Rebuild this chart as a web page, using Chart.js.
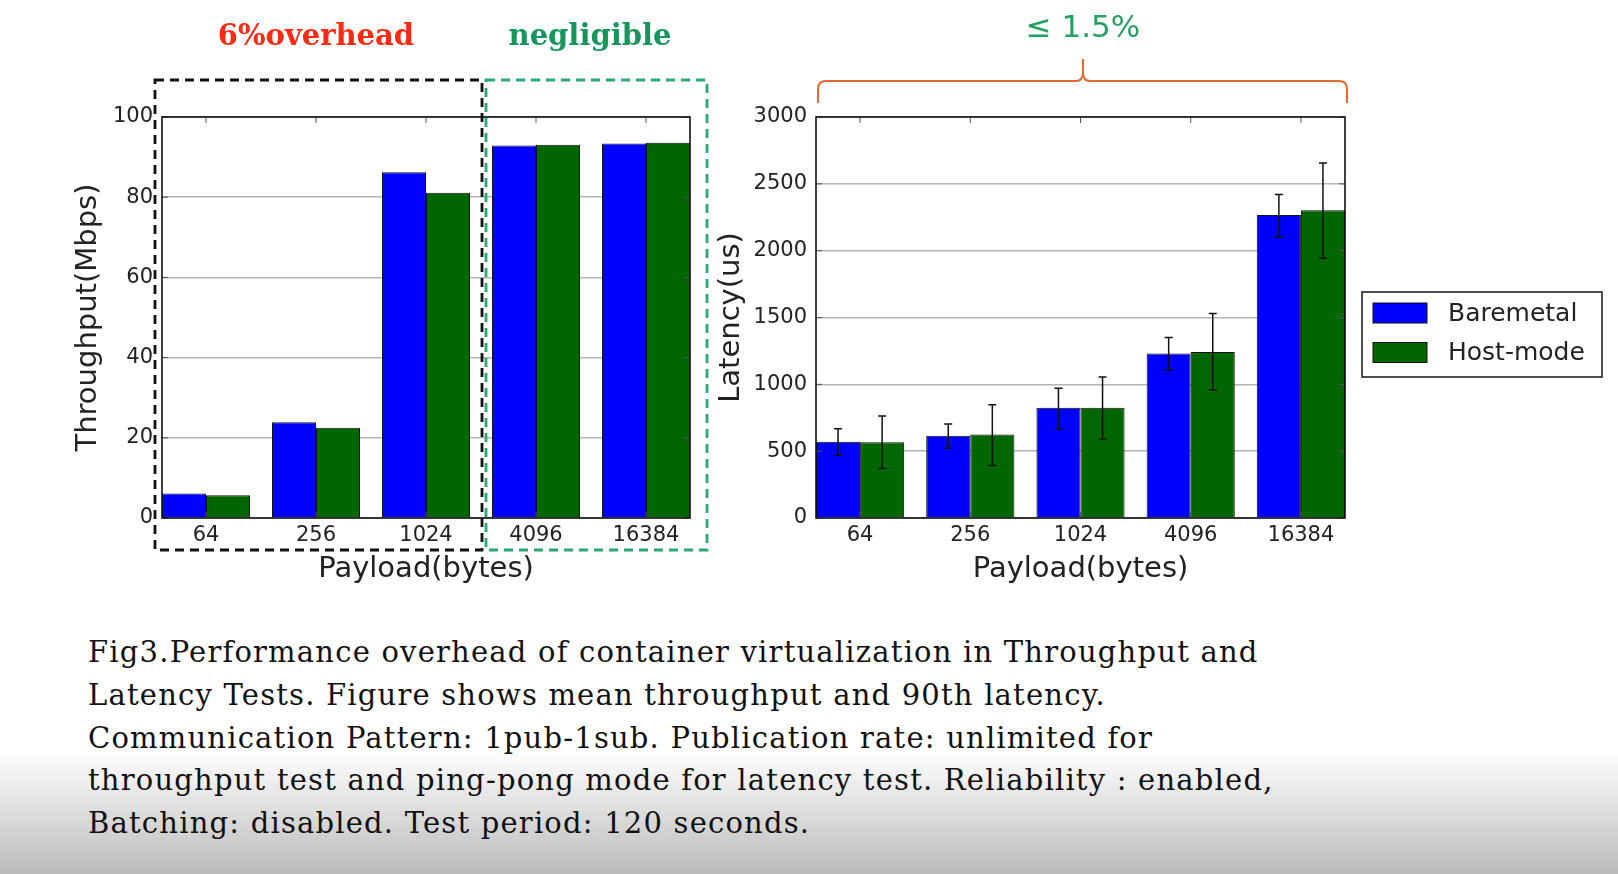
<!DOCTYPE html>
<html>
<head>
<meta charset="utf-8">
<script src="https://cdn.jsdelivr.net/npm/chart.js@4.4.0/dist/chart.umd.min.js"></script>
<style>
  html, body { margin: 0; padding: 0; }
  body {
    width: 1618px; height: 874px; position: relative; overflow: hidden;
    background: linear-gradient(to bottom, #fff 0px, #fff 750px, #bbbbbb 874px);
  }
  canvas { position: absolute; top: 0; }
  #cv1 { left: 0; }
  #cv2 { left: 700px; }
  #caption {
    position: absolute; left: 88px; top: 631px;
    font-family: "DejaVu Serif", serif; font-size: 29px; line-height: 42.8px;
    letter-spacing: 1.2px; color: #111; white-space: nowrap;
  }
</style>
</head>
<body>
<canvas id="cv1" width="720" height="620"></canvas>
<canvas id="cv2" width="918" height="620"></canvas>
<div id="caption">Fig3.Performance overhead of container virtualization in Throughput and<br>Latency Tests. Figure shows mean throughput and 90th latency.<br>Communication Pattern: 1pub-1sub. Publication rate: unlimited for<br>throughput test and ping-pong mode for latency test. Reliability : enabled,<br>Batching: disabled. Test period: 120 seconds.</div>
<script>
// values
const payloads = ['64', '256', '1024', '4096', '16384'];
const seriesNames = ['Baremetal', 'Host-mode'];
const thrBare = [6.1, 23.9, 86.2, 92.9, 93.4];
const thrHost = [5.7, 22.5, 81.1, 93.1, 93.6];
const latBare = [571, 615, 825, 1231, 2266];
const latHost = [566, 624, 825, 1242, 2302];
const latBareLow = [469, 524, 668, 1109, 2103];
const latBareHigh = [668, 704, 971, 1350, 2420];
const latHostLow = [370, 392, 591, 958, 1943];
const latHostHigh = [764, 847, 1054, 1529, 2655];

const BLUE = '#0000ff';
const GREEN = '#006600';

Chart.defaults.font.family = '"DejaVu Sans", sans-serif';
Chart.defaults.color = '#222';

function pts(arr) {
  return arr.map((v, i) => ({ x: i, y: v }));
}

// matplotlib style frame + inward ticks
const framePlugin = {
  id: 'frame',
  afterDatasetsDraw(chart) {
    const { ctx, chartArea: a, scales } = chart;
    ctx.save();
    ctx.strokeStyle = '#555';
    ctx.lineWidth = 1;
    ctx.beginPath();
    scales.y.ticks.forEach(t => {
      const y = scales.y.getPixelForValue(t.value);
      ctx.moveTo(a.left, y); ctx.lineTo(a.left + 6, y);
      ctx.moveTo(a.right, y); ctx.lineTo(a.right - 6, y);
    });
    scales.x.ticks.forEach(t => {
      const x = scales.x.getPixelForValue(t.value);
      ctx.moveTo(x, a.top); ctx.lineTo(x, a.top + 6);
      ctx.moveTo(x, a.bottom); ctx.lineTo(x, a.bottom - 6);
    });
    ctx.stroke();
    ctx.strokeStyle = '#111';
    ctx.lineWidth = 1.6;
    ctx.strokeRect(a.left, a.top, a.right - a.left, a.bottom - a.top);
    ctx.restore();
  }
};

function baseOptions(yMax, yStep, yTitle, yWidth, yTitlePad, padRight) {
  return {
    responsive: false,
    animation: false,
    layout: { padding: { top: 117, right: padRight, left: 0, bottom: 0 } },
    plugins: { legend: { display: false }, tooltip: { enabled: false } },
    datasets: { bar: { categoryPercentage: 0.8, barPercentage: 1.0 } },
    scales: {
      x: {
        type: 'linear', min: -0.4, max: 4.4, offset: false,
        grid: { display: false, drawTicks: false, offset: false },
        border: { display: false },
        ticks: {
          stepSize: 1, includeBounds: false, padding: 5, maxRotation: 0,
          font: { size: 21 }, color: '#222',
          callback: v => payloads[v] ?? ''
        },
        title: { display: true, text: 'Payload(bytes)', font: { size: 29 }, color: '#222', padding: { top: 0, bottom: 33.6 } },
        afterFit: s => { s.height = 102; }
      },
      y: {
        min: 0, max: yMax,
        grid: { color: '#b4b4b4', lineWidth: 1.5, drawTicks: false },
        border: { display: false },
        ticks: { stepSize: yStep, padding: 9, font: { size: 21 }, color: '#222', callback: v => String(v) },
        title: { display: true, text: yTitle, font: { size: 29 }, color: '#222', padding: { top: yTitlePad, bottom: 0 } },
        afterFit: s => { s.width = yWidth; }
      }
    }
  };
}

// annotations above the throughput chart
const leftNotes = {
  id: 'leftNotes',
  afterDraw(chart) {
    const ctx = chart.ctx;
    ctx.save();
    ctx.lineWidth = 2.8;
    ctx.setLineDash([9, 6]);
    ctx.strokeStyle = '#111';
    ctx.strokeRect(155, 80, 327, 470);
    ctx.strokeStyle = '#2aa877';
    ctx.strokeRect(486, 80, 221, 470);
    ctx.setLineDash([]);
    ctx.font = 'bold 29px "DejaVu Serif", serif';
    ctx.textAlign = 'center';
    ctx.textBaseline = 'middle';
    ctx.fillStyle = '#ff2a12';
    ctx.fillText('6%overhead', 316, 37);
    ctx.fillStyle = '#16955c';
    ctx.fillText('negligible', 590, 37);
    ctx.restore();
  }
};

new Chart(document.getElementById('cv1'), {
  type: 'bar',
  data: {
    datasets: [
      { label: seriesNames[0], data: pts(thrBare), backgroundColor: BLUE, borderColor: '#111', borderWidth: 1 },
      { label: seriesNames[1], data: pts(thrHost), backgroundColor: GREEN, borderColor: '#111', borderWidth: 1 }
    ]
  },
  options: baseOptions(100, 20, 'Throughput(Mbps)', 162, 70.6, 30),
  plugins: [framePlugin, leftNotes]
});

// error bars, legend box and brace for the latency chart
const errorBars = {
  id: 'errorBars',
  afterDatasetsDraw(chart) {
    const { ctx, scales: { y } } = chart;
    ctx.save();
    ctx.strokeStyle = '#111';
    ctx.lineWidth = 1.5;
    chart.data.datasets.forEach((ds, d) => {
      chart.getDatasetMeta(d).data.forEach((bar, i) => {
        const lo = y.getPixelForValue(ds.errLow[i]);
        const hi = y.getPixelForValue(ds.errHigh[i]);
        ctx.beginPath();
        ctx.moveTo(bar.x, lo); ctx.lineTo(bar.x, hi);
        ctx.moveTo(bar.x - 4, lo); ctx.lineTo(bar.x + 4, lo);
        ctx.moveTo(bar.x - 4, hi); ctx.lineTo(bar.x + 4, hi);
        ctx.stroke();
      });
    });
    ctx.restore();
  }
};

const rightNotes = {
  id: 'rightNotes',
  afterDraw(chart) {
    const ctx = chart.ctx;
    ctx.save();
    // legend
    ctx.fillStyle = '#fff';
    ctx.fillRect(662, 292, 240, 85);
    ctx.strokeStyle = '#222';
    ctx.lineWidth = 1.6;
    ctx.strokeRect(662, 292, 240, 85);
    ctx.font = '25px "DejaVu Sans", sans-serif';
    ctx.textBaseline = 'middle';
    chart.data.datasets.forEach((ds, d) => {
      const cy = 313 + d * 39.5;
      ctx.fillStyle = ds.backgroundColor;
      ctx.fillRect(673, cy - 10, 54, 20);
      ctx.strokeStyle = '#111';
      ctx.lineWidth = 1;
      ctx.strokeRect(673, cy - 10, 54, 20);
      ctx.fillStyle = '#222';
      ctx.fillText(ds.label, 748, cy + 1);
    });
    // brace
    ctx.strokeStyle = '#e06c32';
    ctx.lineWidth = 2;
    ctx.beginPath();
    ctx.moveTo(118, 103);
    ctx.lineTo(118, 89);
    ctx.quadraticCurveTo(118, 81, 126, 81);
    ctx.lineTo(376, 81);
    ctx.quadraticCurveTo(383, 81, 383, 72);
    ctx.lineTo(383, 59);
    ctx.moveTo(383, 72);
    ctx.quadraticCurveTo(383, 81, 390, 81);
    ctx.lineTo(639, 81);
    ctx.quadraticCurveTo(647, 81, 647, 89);
    ctx.lineTo(647, 103);
    ctx.stroke();
    ctx.fillStyle = '#24a062';
    ctx.font = '31px "DejaVu Sans", sans-serif';
    ctx.textAlign = 'center';
    ctx.fillText('\u2264 1.5%', 383, 29);
    ctx.restore();
  }
};

new Chart(document.getElementById('cv2'), {
  type: 'bar',
  data: {
    datasets: [
      { label: seriesNames[0], data: pts(latBare), errLow: latBareLow, errHigh: latBareHigh, backgroundColor: BLUE, borderColor: '#111', borderWidth: 1 },
      { label: seriesNames[1], data: pts(latHost), errLow: latHostLow, errHigh: latHostHigh, backgroundColor: GREEN, borderColor: '#111', borderWidth: 1 }
    ]
  },
  options: baseOptions(3000, 500, 'Latency(us)', 116, 13.6, 273),
  plugins: [framePlugin, errorBars, rightNotes]
});
</script>
</body>
</html>
